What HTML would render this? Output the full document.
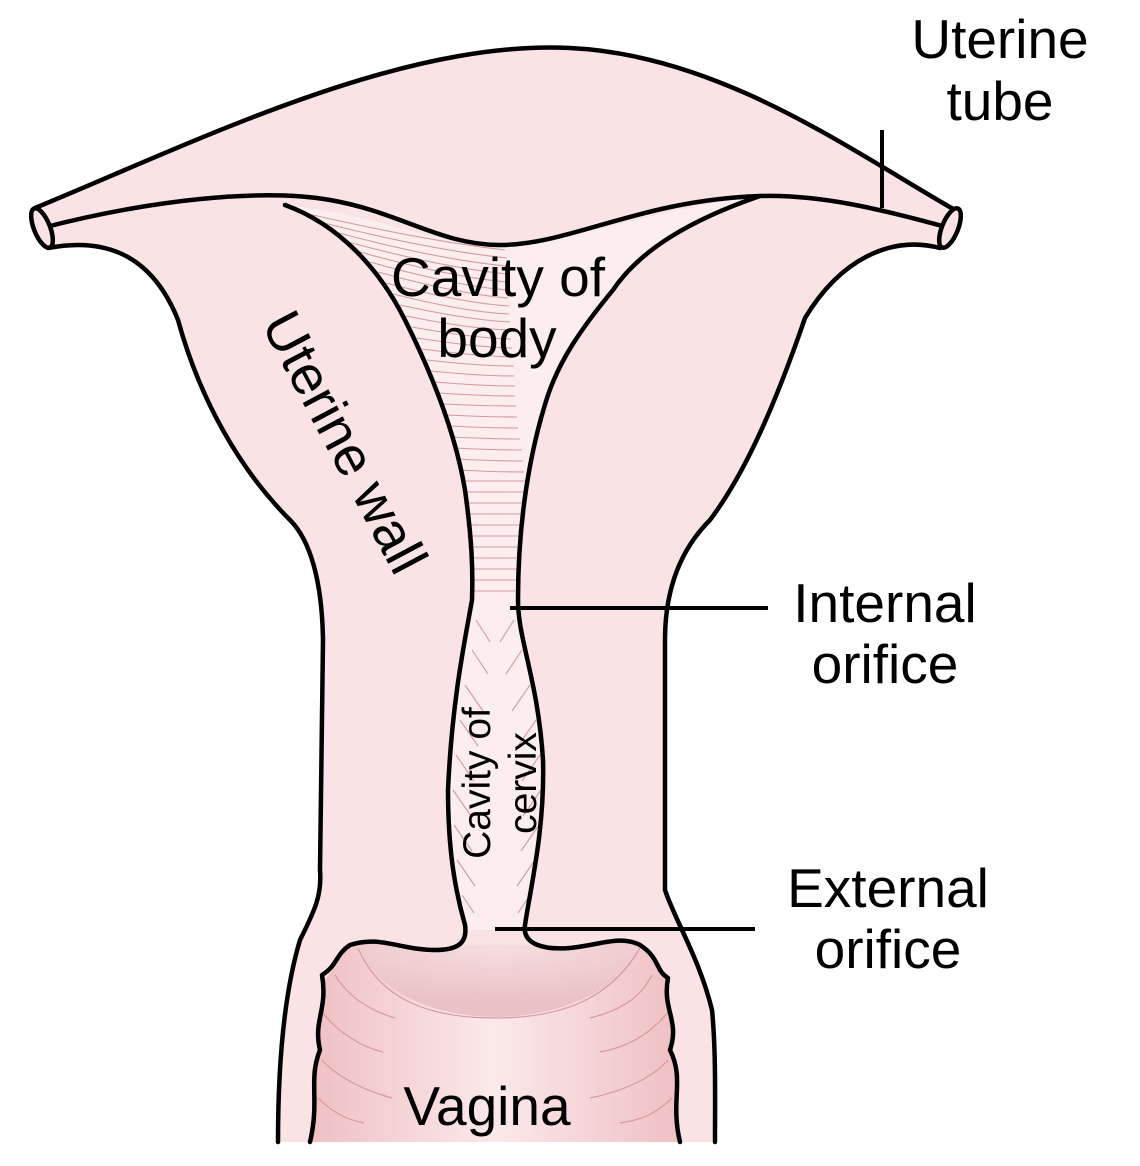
<!DOCTYPE html>
<html><head><meta charset="utf-8"><style>
html,body{margin:0;padding:0;background:#fff}
svg{display:block}
text{font-family:"Liberation Sans",Arial,sans-serif;fill:#000}
</style></head><body>
<svg width="1140" height="1166" viewBox="0 0 1140 1166" xmlns="http://www.w3.org/2000/svg">
<defs>
<linearGradient id="vg" x1="0" x2="1" y1="0" y2="0">
<stop offset="0" stop-color="#efc0c3"/><stop offset="0.5" stop-color="#fbe9ea"/><stop offset="1" stop-color="#efc0c3"/>
</linearGradient>
<radialGradient id="dome" cx="0.5" cy="0" r="0.8">
<stop offset="0" stop-color="#f7dfe0"/><stop offset="1" stop-color="#e9c2c4"/>
</radialGradient>
</defs>
<path d="M35,208 C200,140 400,40 570,48 C720,55 850,150 955,210 L945,248 C890,235 840,260 805,318 C770,420 740,480 710,520 C680,550 665,590 665,640 L665,890 C675,920 700,960 712,1010 L715,1142 L278,1142 C278,1060 285,990 300,940 C315,910 322,895 320,870 L323,640 C322,580 310,540 290,520 C240,470 200,400 178,320 C150,250 100,238 48,248 Z" fill="#f9e3e5" stroke="none"/>
<path d="M285,205 C340,225 380,270 405,320 C430,370 455,430 465,490 C472,540 473,570 472,600 C465,640 452,700 448,790 C448,850 455,890 465,930 L525,930 C530,890 545,830 543,760 C538,680 518,640 518,600 C518,520 530,450 548,395 C560,360 580,330 613,290 C640,250 690,220 760,196 C650,210 560,245 500,245 C430,245 380,215 285,205 Z" fill="#fcedee"/>
<g stroke="#d49a9d" stroke-width="1.1" fill="none">
<path d="M300,212 Q420,240 505,250"/>
<path d="M320,222 Q430,250 507,258"/>
<path d="M335,232 Q440,260 507,266"/>
<path d="M348,242 Q445,268 507,274"/>
<path d="M360,252 Q450,277 507,282"/>
<path d="M370,262 Q455,286 508,290"/>
<path d="M378,272 Q458,294 508,298"/>
<path d="M386,283 Q462,303 509,306"/>
<path d="M393,294 Q465,312 509,314"/>
<path d="M400,305 Q468,320 510,322"/>
<path d="M406,316 Q470,329 510,330"/>
<path d="M412,327 Q472,338 511,339"/>
<path d="M417,338 Q474,347 512,348"/>
<path d="M422,349 Q476,356 513,357"/>
<path d="M427,360 Q478,366 514,366"/>
<path d="M431,371 Q480,376 514,376"/>
<path d="M435,382 Q482,386 515,386"/>
<path d="M439,393 Q484,396 515,396"/>
<path d="M443,404 Q486,406 516,406"/>
<path d="M446,415 Q488,417 517,417"/>
<path d="M449,426 Q490,428 518,428"/>
<path d="M452,437 Q492,439 520,439"/>
<path d="M455,448 Q494,450 522,450"/>
<path d="M457,459 Q495,461 523,461"/>
<path d="M459,470 Q496,472 524,472"/>
<path d="M461,481 L525,481 M463,492 L525,492 M464,503 L524,503 M465,514 L523,514 M466,525 L522,525 M467,536 L521,536 M468,547 L520,547 M469,558 L519,558 M470,569 L519,569 M470,580 L518,580 M471,591 L518,591"/>
<path d="M476,620 l14,22 M472,650 l16,24 M465,685 l18,26 M460,720 l18,26 M456,755 l18,26 M453,790 l18,26 M454,825 l18,26 M457,860 l18,26 M462,895 l12,18"/>
<path d="M514,620 l-14,22 M522,650 l-16,24 M530,685 l-18,26 M536,720 l-18,26 M540,755 l-18,26 M541,790 l-18,26 M539,825 l-18,26 M535,860 l-18,26 M530,895 l-12,18"/>
</g>
<path d="M350,945 C390,935 430,960 460,945 L530,945 C570,960 600,935 635,945 C660,960 655,975 668,980 C665,1010 680,1020 672,1050 C685,1080 670,1100 680,1142 L310,1142 C318,1100 305,1080 318,1050 C310,1020 325,1010 322,980 C335,975 330,960 350,945 Z" fill="url(#vg)"/>
<path d="M358,948 C400,1040 590,1040 640,948 C600,935 570,955 530,945 L460,945 C430,960 390,935 358,948 Z" fill="url(#dome)"/>
<g stroke="#d49a9d" stroke-width="1.2" fill="none">
<path d="M358,948 C380,1000 430,1018 495,1018 C560,1018 610,1000 640,948"/>
<path d="M335,975 C350,1000 375,1012 395,1018 M322,1012 C340,1035 365,1048 383,1052 M322,1060 C340,1080 370,1092 392,1098 M318,1098 C335,1115 350,1120 364,1123"/>
<path d="M652,975 C640,1000 615,1012 590,1018 M668,1012 C650,1035 625,1048 600,1052 M668,1060 C650,1080 620,1092 590,1098 M672,1098 C655,1115 640,1120 620,1123"/>
</g>
<g stroke="#000" stroke-width="4.5" fill="none" stroke-linecap="round" stroke-linejoin="round">
<path d="M35,208 C200,140 400,40 570,48 C720,55 850,150 955,210"/>
<path d="M42,228 C150,200 260,188 330,200 C400,212 440,245 500,245 C570,245 640,200 760,196 C830,194 900,215 950,228"/>
<path d="M48,248 C100,238 150,250 178,320 C200,400 240,470 290,520 C310,540 322,580 323,640 L320,870 C322,895 315,910 300,940 C285,990 278,1060 278,1142"/>
<path d="M940,248 C890,235 840,260 805,318 C770,420 740,480 710,520 C680,550 665,590 665,640 L665,890 C675,920 700,960 712,1010 C716,1050 715,1100 715,1142"/>
<path d="M285,205 C340,225 380,270 405,320 C430,370 455,430 465,490 C472,540 473,570 472,600 C465,640 452,700 448,790 C448,850 455,890 465,925 C468,945 455,950 435,950 C400,950 380,935 350,945 C335,955 338,965 322,975 C328,1010 313,1020 320,1050 C308,1080 320,1100 310,1142"/>
<path d="M760,196 C690,220 640,250 613,290 C580,330 560,360 548,395 C530,450 518,520 518,600 C518,640 538,680 543,760 C545,830 530,890 525,925 C522,945 545,950 570,948 C600,945 620,935 640,945 C660,958 655,970 668,978 C662,1010 680,1020 670,1050 C685,1080 670,1100 680,1142"/>
<ellipse cx="42" cy="228" rx="8" ry="21" transform="rotate(-22 42 228)" fill="#f9e3e5"/>
<ellipse cx="950" cy="228" rx="8" ry="21" transform="rotate(22 950 228)" fill="#f9e3e5"/>
</g>
<g stroke="#000" stroke-width="4">
<line x1="882" y1="130" x2="882" y2="208"/>
<line x1="510" y1="608" x2="768" y2="608"/>
<line x1="495" y1="929" x2="755" y2="929"/>
</g>
<g font-size="55" text-anchor="middle">
<text x="1000" y="58">Uterine</text><text x="1000" y="120">tube</text>
<text x="498" y="296">Cavity of</text><text x="497" y="357">body</text>
<text x="885" y="622">Internal</text><text x="885" y="683">orifice</text>
<text x="888" y="907">External</text><text x="888" y="968">orifice</text>
<text x="487" y="1125">Vagina</text>
<text transform="translate(345,442) rotate(62)" text-anchor="middle" y="19">Uterine wall</text>
</g>
<g font-size="39" text-anchor="middle" transform="translate(498,783) rotate(-90)">
<text x="0" y="-8">Cavity of</text>
<text x="0" y="38">cervix</text>
</g>
</svg>
</body></html>
